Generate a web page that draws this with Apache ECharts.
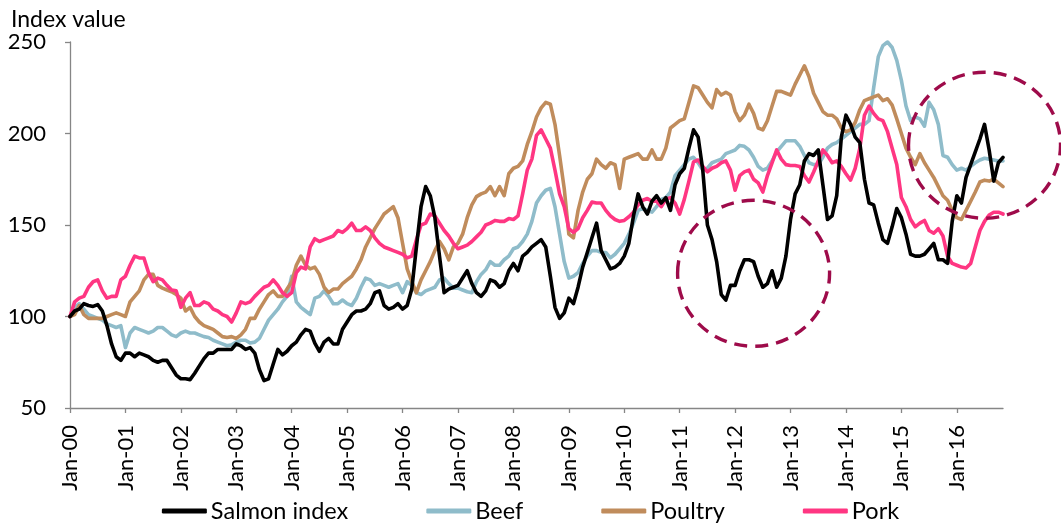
<!DOCTYPE html>
<html>
<head>
<meta charset="utf-8">
<title>Salmon vs meat price indices</title>
<script src="https://cdn.jsdelivr.net/npm/echarts@6/dist/echarts.min.js"></script>
<style>
  html, body { margin: 0; padding: 0; background: #ffffff; }
  #chart { width: 1061px; height: 531px; }
</style>
</head>
<body>
<div id="chart"></div>
<script>
// Monthly index values (Jan 2000 = 100), Jan-00 through Nov-16
const monthNames = ['Jan', 'Feb', 'Mar', 'Apr', 'May', 'Jun', 'Jul', 'Aug', 'Sep', 'Oct', 'Nov', 'Dec'];
const firstYear = 2000;

const salmon = [
  100, 103, 104, 107, 106, 105.5, 106.5, 103, 95, 85, 78, 76,
  80, 80, 78, 80, 79, 78, 76, 75, 76, 76, 72, 68,
  66, 66, 65.5, 69, 73, 77, 80, 80, 82, 82, 82, 82,
  85, 84, 82, 83, 80, 71, 65, 66, 74, 82, 79, 81,
  84, 86, 90, 93, 92, 85.5, 81, 86, 88, 85, 85, 93,
  97, 101, 103, 103, 104, 107, 113, 114, 106, 104, 105, 107,
  104, 106, 115, 138, 160, 171, 166, 154, 133, 113, 115, 116,
  117, 121, 125, 118, 113, 111, 114, 120, 119, 116, 118, 125,
  129, 125, 133, 135, 138, 140, 142, 138, 122, 105, 99, 102,
  110, 107, 116, 127, 135, 143, 151, 136, 131, 126, 127, 129,
  133, 140, 155, 167, 160, 156, 163, 166, 162, 165, 158, 172,
  178, 181, 192, 202, 198, 180, 150, 142, 130, 112, 109, 117,
  117, 125, 131, 131, 130, 122, 116, 118, 125, 116, 121, 133,
  153, 167, 172, 185, 189, 188, 191, 172, 153, 155, 166, 198,
  210, 205, 198, 195, 175, 162, 161, 151, 142, 140, 149, 159,
  154, 145, 134, 133, 133, 134, 137, 140, 131, 131, 129, 152,
  166, 162, 176, 183, 190, 197, 205, 191, 174, 184, 187
];

const beef = [
  100, 105, 107, 104, 101, 100, 99, 98, 96, 95, 94, 95,
  83, 91, 94, 93, 92, 91, 92, 94, 94, 92, 90, 89,
  91, 92, 91, 91, 90, 89, 88.5, 87, 86, 85, 84, 84.5,
  86, 87, 87, 85.5, 86, 88, 93, 98, 101, 104, 108, 111,
  122, 108, 105, 103, 101, 110, 111, 114, 111, 107, 107, 109,
  107, 106, 110, 116, 121, 120, 117, 118, 117, 116, 117, 118,
  113, 119, 117, 113, 112, 114, 115, 116, 120, 121, 118, 115.5,
  115.5, 114.5, 113.5, 113, 119, 123, 125.5, 130, 128, 128, 131, 133,
  137, 138, 141, 145, 152, 162, 166, 169, 170, 160, 145, 130,
  121, 122, 124, 129, 133, 136, 136, 135, 135, 132, 134, 137,
  140, 145, 151, 158, 159, 158, 157, 160, 164, 165, 168, 177,
  180, 183, 186, 187, 184, 180, 181, 184, 185, 186, 189, 190,
  191, 193.5, 193, 191, 187, 182, 180, 181, 185, 190, 193, 196,
  196, 196, 193, 188, 184, 183, 183, 187, 192, 194, 195, 197,
  199, 201, 203, 205, 205, 207, 225, 242, 248, 250, 247, 240,
  229, 215, 207, 209, 208, 204, 217, 213, 205, 188, 187, 183,
  180, 181, 180, 182, 184, 185.5, 186.5, 186, 185.5, 185, 185
];

const poultry = [
  100, 101, 106, 101, 99, 99, 99, 99, 100, 101, 102, 101,
  100, 108, 111, 114, 120, 123, 123, 117, 115.5, 114.5, 113.5, 112,
  110, 103, 105, 100, 97, 95, 94, 93, 91, 89, 88.5, 89,
  88, 90, 93, 99, 99, 104, 108, 112, 114, 111, 111, 115,
  119, 128, 133, 128, 126, 127, 123, 116, 113, 115, 115, 118,
  120, 122, 126, 131, 138, 143, 148, 152, 156, 158, 160, 154,
  140, 126, 119, 113, 120, 125, 130, 136, 141, 137, 131, 138,
  140, 145, 154, 161, 165.5, 167, 168, 171, 166, 171, 166, 178,
  181, 182, 185, 194, 201, 209, 214, 217, 216, 205, 188, 170,
  145, 143, 158, 168, 175, 178, 186, 183, 181, 184, 183, 170,
  186, 187, 188, 189, 186, 186, 191, 186, 186, 192, 203, 205,
  207, 208, 217, 226, 225, 221, 217, 214, 224, 221, 222.5, 221,
  212, 207, 210, 216, 211, 203, 202, 207, 215, 223, 223, 222,
  221, 227, 232, 237, 231, 222, 217, 212, 210, 210, 208, 203,
  201, 202, 206, 213, 218, 219, 220, 221, 218, 219, 215.5, 208,
  200, 192, 187, 183, 189, 184, 180, 176, 171, 166, 163.5, 158,
  154, 153, 158, 163, 168, 173.5, 174.5, 174, 175, 173, 171
];

const pork = [
  100, 108, 110, 111, 116, 119, 120, 114, 110, 111, 111, 120,
  122, 128, 133, 132, 132, 124, 119, 121, 120, 117, 114.5, 114,
  105, 110, 113, 106, 106, 108, 107, 104, 103, 101, 100, 97,
  102, 108, 107, 108, 111, 113.5, 116, 117, 120, 117, 113, 111,
  113, 124, 127, 126, 138, 142.5, 141, 142, 143, 144, 147, 146,
  148, 151, 147, 147, 149, 147, 143, 140, 138, 137, 136, 135,
  134, 132, 133, 142, 150, 151, 156, 155, 151, 147, 144, 140,
  137, 138, 139, 141, 143.5, 146, 150, 151, 152.5, 152, 152, 153.5,
  153, 155, 167, 180, 186, 199, 202, 197, 192, 180, 167, 160,
  148, 146, 148, 154, 158, 162.5, 162, 162, 158, 155, 153, 152,
  152.5, 154.5, 157, 161, 163.5, 164.5, 163, 163, 160, 164, 165, 162,
  156, 164, 174, 184.5, 185.5, 182, 179, 181, 182, 184, 185, 180,
  169, 177, 179, 180, 175, 173, 168, 177, 184, 191, 186, 183,
  182.5, 182.5, 182, 177, 173.5, 179, 185, 191, 188, 184, 185, 182,
  178, 174.5, 181, 192, 210, 215, 211, 208, 207, 201, 192, 183,
  165, 160, 153, 149, 151, 152.5, 147, 145.5, 148, 144, 133, 129,
  128, 127, 126.5, 129, 138, 147, 152, 155.5, 157, 157, 156
];

// Category labels: "Jan-00", "Feb-00", ...
const categories = salmon.map(function (_, i) {
  const yy = String((firstYear + Math.floor(i / 12)) % 100).padStart(2, '0');
  return monthNames[i % 12] + '-' + yy;
});

// Dashed rings highlighting two periods (centre in month index / index value, radii in px)
const highlights = [
  { month: 148.4, value: 123.6, rx: 76, ry: 73 },
  { month: 197.8, value: 193.6, rx: 76, ry: 73 }
];

const FONT = 'Lato, "Open Sans", sans-serif';
const axisGrey = '#868686';

const chart = echarts.init(document.getElementById('chart'), null, { renderer: 'canvas' });

function lineSeries(name, data, color, z) {
  return {
    name: name,
    type: 'line',
    data: data,
    symbol: 'none',
    z: z,
    lineStyle: { color: color, width: 3.6, cap: 'round', join: 'round' },
    itemStyle: { color: color },
    emphasis: { disabled: true }
  };
}

chart.setOption({
  animation: false,
  backgroundColor: '#ffffff',
  title: {
    text: 'Index value',
    left: 6,
    top: 3,
    textStyle: { fontFamily: FONT, fontSize: 23, fontWeight: 'normal', color: '#000000' }
  },
  grid: { left: 70, right: 58, top: 42, bottom: 123, containLabel: false },
  legend: {
    bottom: 3,
    left: 'center',
    icon: 'roundRect',
    itemWidth: 45,
    itemHeight: 5,
    itemGap: 78,
    textStyle: { fontFamily: FONT, fontSize: 23.5, color: '#000000', padding: [0, 0, 0, -1] },
    data: ['Salmon index', 'Beef', 'Poultry', 'Pork']
  },
  xAxis: {
    type: 'category',
    data: categories,
    boundaryGap: false,
    axisLine: { lineStyle: { color: axisGrey, width: 1.3 } },
    axisTick: { show: true, interval: 11, length: 5, lineStyle: { color: axisGrey, width: 1.3 } },
    axisLabel: {
      interval: 11,
      rotate: 90,
      margin: 17,
      fontFamily: FONT,
      fontSize: 22,
      color: '#000000'
    },
    splitLine: { show: false }
  },
  yAxis: {
    type: 'value',
    min: 50,
    max: 250,
    interval: 50,
    axisLine: { show: true, lineStyle: { color: axisGrey, width: 1.3 } },
    axisTick: { show: true, length: 5, lineStyle: { color: axisGrey, width: 1.3 } },
    axisLabel: { margin: 24, fontFamily: FONT, fontSize: 22, color: '#000000' },
    splitLine: { show: false }
  },
  series: [
    lineSeries('Salmon index', salmon, '#000000', 5),
    lineSeries('Beef', beef, '#8fbcca', 2),
    lineSeries('Poultry', poultry, '#c08c5c', 3),
    lineSeries('Pork', pork, '#ff3682', 4)
  ]
});

// Place the dashed rings using the chart's own coordinate system
const rings = highlights.map(function (h) {
  const p = chart.convertToPixel({ gridIndex: 0 }, [h.month, h.value]);
  return {
    type: 'ellipse',
    z: 100,
    silent: true,
    shape: { cx: p[0], cy: p[1], rx: h.rx, ry: h.ry },
    style: { fill: null, stroke: '#9e0b4a', lineWidth: 3.4, lineDash: [13, 8] }
  };
});
chart.setOption({ graphic: rings });
</script>
</body>
</html>
